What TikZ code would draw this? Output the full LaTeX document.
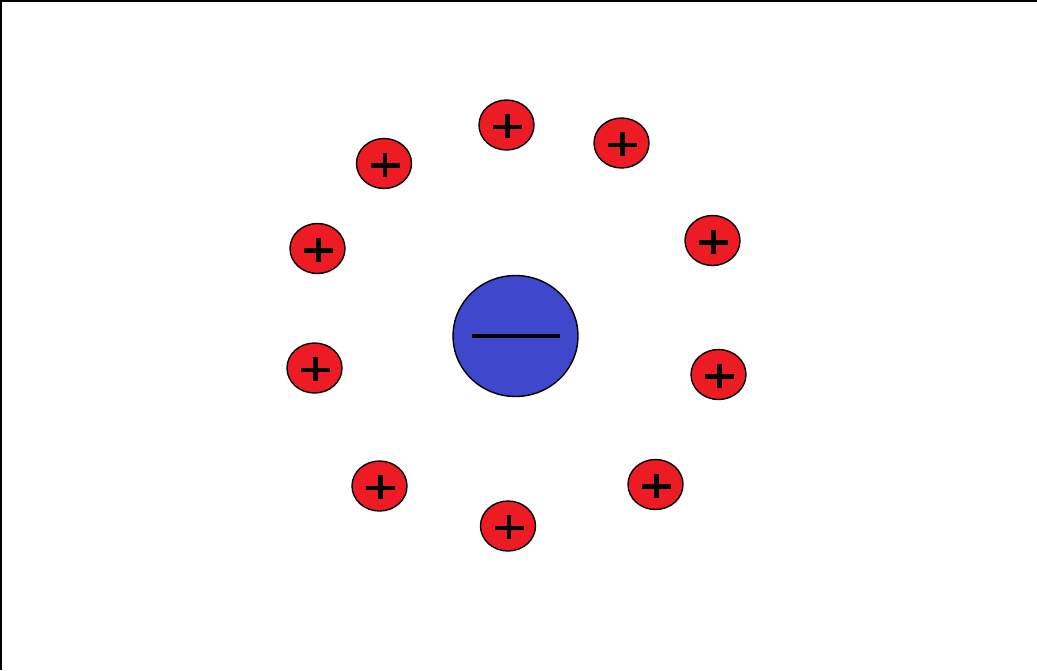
\documentclass[tikz,border=0pt]{standalone}
\usetikzlibrary{shapes.geometric}
\definecolor{ionred}{RGB}{237,28,36}
\definecolor{ionblue}{RGB}{63,72,204}
\tikzset{
  posion/.style={ellipse,draw=black,fill=ionred,line width=.8pt,minimum width=1.1cm,minimum height=1cm,inner sep=0pt,
    path picture={\draw[line width=2.5pt] ([xshift=-.27cm,yshift=-.04cm]path picture bounding box.center)--++(.58cm,0);
      \draw[line width=2.5pt] ([xshift=.02cm,yshift=.22cm]path picture bounding box.center)--++(0,-.48cm);}},
  negion/.style={ellipse,draw=black,fill=ionblue,line width=.8pt,minimum width=2.5cm,minimum height=2.42cm,inner sep=0pt,
    path picture={\draw[line width=2.4pt] ([xshift=-.88cm]path picture bounding box.center)--++(1.76cm,0);}},
  frameline/.style={line width=1.2pt}
}
\begin{document}
\begin{tikzpicture}[x=0.02cm,y=-0.02cm]
\useasboundingbox (0,0) rectangle (1037,670);
\draw[frameline] (0.5,670)--(0.5,0.5)--(1037,0.5);
% central negative ion
\node[negion] (neg) at (515.5,336) {};
% ring of positive ions
\foreach \n/\x/\y in {p1/506.5/125,p2/621.5/143,p3/384/163.5,p4/712.5/240.5,p5/317.5/248.5,
                      p6/314.5/368,p7/718.5/374.5,p8/379.5/486,p9/655.5/484.5,p10/508/526}
  \node[posion] (\n) at (\x,\y) {};
\end{tikzpicture}
\end{document}
